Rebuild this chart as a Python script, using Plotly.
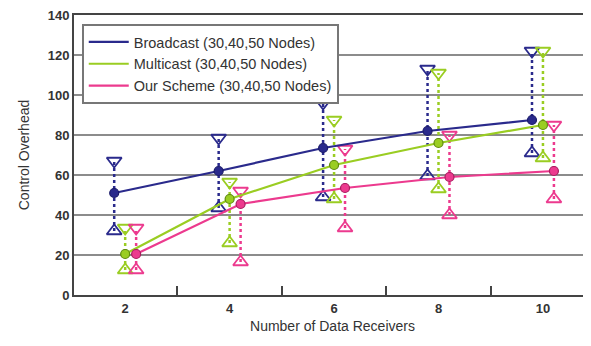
import plotly.graph_objects as go

receivers = ["2", "4", "6", "8", "10"]

broadcast_avg = [51, 62, 73.5, 82, 87.5]
broadcast_max = [67, 78.5, 96, 113, 122]
broadcast_min = [32, 43.5, 49, 59.5, 71]

multicast_avg = [20.5, 48, 65, 76, 85]
multicast_max = [33.5, 56.5, 87.5, 111, 122]
multicast_min = [12.5, 26, 48, 53, 68.5]

scheme_avg = [20.5, 45.5, 53.5, 59, 62]
scheme_max = [33.5, 52, 73, 80, 85]
scheme_min = [12.5, 16.5, 33.5, 40, 48]

series = [
    ("Broadcast (30,40,50 Nodes)", broadcast_avg, broadcast_max, broadcast_min, "#2a2a8c", "#1c1c6a", -0.105),
    ("Multicast (30,40,50 Nodes)", multicast_avg, multicast_max, multicast_min, "#9acd22", "#5f8a10", 0.0),
    ("Our Scheme (30,40,50 Nodes)", scheme_avg, scheme_max, scheme_min, "#ec3a8e", "#a81d5e", 0.105),
]

fig = go.Figure()
idx = list(range(len(receivers)))

for name, avg, mx, mn, col, dark, off in series:
    xs = [i + off for i in idx]
    vx, vy = [], []
    for x, a, b in zip(xs, mn, mx):
        vx += [x, x, None]
        vy += [a, b, None]
    fig.add_trace(go.Scatter(x=vx, y=vy, mode="lines", line=dict(color=col, width=2.5, dash="dot"),
                             showlegend=False, hoverinfo="skip"))
    fig.add_trace(go.Scatter(x=xs, y=mx, mode="markers", showlegend=False,
                             marker=dict(symbol="triangle-down-open", size=13, color=col, line=dict(width=1.8))))
    fig.add_trace(go.Scatter(x=xs, y=mn, mode="markers", showlegend=False,
                             marker=dict(symbol="triangle-up-open", size=13, color=col, line=dict(width=1.8))))

for name, avg, mx, mn, col, dark, off in series:
    xs = [i + off for i in idx]
    fig.add_trace(go.Scatter(x=xs, y=avg, mode="lines", name=name, line=dict(color=col, width=2.2)))

for name, avg, mx, mn, col, dark, off in series:
    xs = [i + off for i in idx]
    fig.add_trace(go.Scatter(x=xs, y=avg, mode="markers", showlegend=False,
                             marker=dict(symbol="circle", size=9, color=col, line=dict(color=dark, width=1.2))))

font = "Liberation Sans, Arial, sans-serif"
fig.update_layout(
    width=583, height=338,
    margin=dict(l=66, r=0, t=7, b=51, autoexpand=False),
    paper_bgcolor="white", plot_bgcolor="white",
    font=dict(family=font, color="#333333", size=13),
    showlegend=True,
    legend=dict(x=0.015, y=0.968, xanchor="left", yanchor="top",
                bordercolor="#777777", borderwidth=2, bgcolor="white", itemwidth=40,
                font=dict(size=14.5, color="#333333"), tracegroupgap=0),
    xaxis=dict(range=[-0.49, 4.46], tickvals=idx, ticktext=receivers, ticks="", showgrid=False,
               zeroline=False, showline=True, linecolor="#444444", linewidth=2, mirror="all",
               automargin=False, ticklabeloverflow="allow",
               tickfont=dict(size=13, weight="bold", color="#333333"),
               title=dict(text="Number of Data Receivers", font=dict(size=14), standoff=7)),
    xaxis2=dict(overlaying="x", side="bottom", range=[-0.49, 4.46], automargin=False,
                tickvals=[i + 0.5 for i in idx[:-1]], ticks="inside", ticklen=9, tickwidth=2,
                tickcolor="#444444", showticklabels=False, showgrid=False, zeroline=False, showline=False),
    yaxis=dict(range=[0, 140], dtick=20, showgrid=True, gridcolor="#8c8c8c", gridwidth=1.5,
               zeroline=False, showline=True, linecolor="#444444", linewidth=2, ticks="",
               automargin=False, ticklabeloverflow="allow",
               tickfont=dict(size=13, weight="bold", color="#333333"),
               title=dict(text="Control Overhead", font=dict(size=14))),
)
fig.add_trace(go.Scatter(x=[None], y=[None], xaxis="x2", showlegend=False, hoverinfo="skip"))

fig.write_html("out.html")
